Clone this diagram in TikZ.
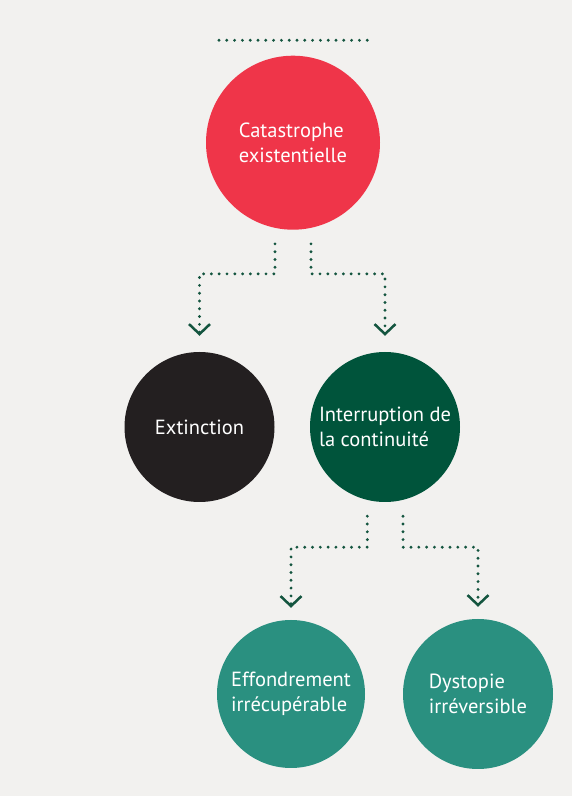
\documentclass[tikz,border=0pt]{standalone}
\usepackage{fontspec}
\setmainfont{PT Sans}
\usetikzlibrary{arrows.meta}
\definecolor{paperGrey}{HTML}{F2F1EF}
\definecolor{riskRed}{HTML}{EF3549}
\definecolor{inkBlack}{HTML}{231F20}
\definecolor{forestGreen}{HTML}{00543B}
\definecolor{tealGreen}{HTML}{2A9080}
\definecolor{dotGreen}{HTML}{14553F}

\begin{document}
\begin{tikzpicture}[x=1pt,y=1pt,
    bubble/.style={circle,inner sep=0pt,text=white,align=left,
      font=\fontsize{20.5}{24.5}\selectfont},
    dots/.style={dotGreen,line width=3.2pt,line cap=round,dash pattern=on 0pt off 7.8pt},
    flow/.style={dots,-{Straight Barb[length=10pt,width=21pt,line width=2.5pt]}}]
    \fill[paperGrey] (0,0) rectangle (572,796);
    \useasboundingbox (0,0) rectangle (572,796);
    % dotted rule on top
    \coordinate (topL) at (219,755.7);
    \coordinate (topR) at (368,755.7);
    \draw[dots] (topL) -- (topR);
    % circles
    \node[bubble,fill=riskRed,minimum size=174pt] (cata) at (293,653.3) {Catastrophe\\existentielle};
    \node[bubble,fill=inkBlack,minimum size=150pt] (ext) at (199.5,369) {Extinction};
    \node[bubble,fill=forestGreen,minimum size=150pt] (intr) at (385,369) {Interruption de\\la continuité};
    \node[bubble,fill=tealGreen,minimum size=148pt] (effo) at (291,102) {Effondrement\\irrécupérable};
    \node[bubble,fill=tealGreen,minimum size=150pt] (dyst) at (478,102) {Dystopie\\irréversible};
    % connectors
    \draw[flow] ([xshift=-18pt,yshift=-14pt]cata.south) -- ++(0,-30) -| ([yshift=16pt]ext.north);
    \draw[flow] ([xshift=18pt,yshift=-14pt]cata.south) -- ++(0,-30) -| ([yshift=16pt]intr.north);
    \draw[flow] ([xshift=-17.7pt,yshift=-14pt]intr.south) -- ++(0,-31) -| ([yshift=12pt]effo.north);
    \draw[flow] ([xshift=18pt,yshift=-14pt]intr.south) -- ++(0,-31) -| ([yshift=12pt]dyst.north);
\end{tikzpicture}
\end{document}
